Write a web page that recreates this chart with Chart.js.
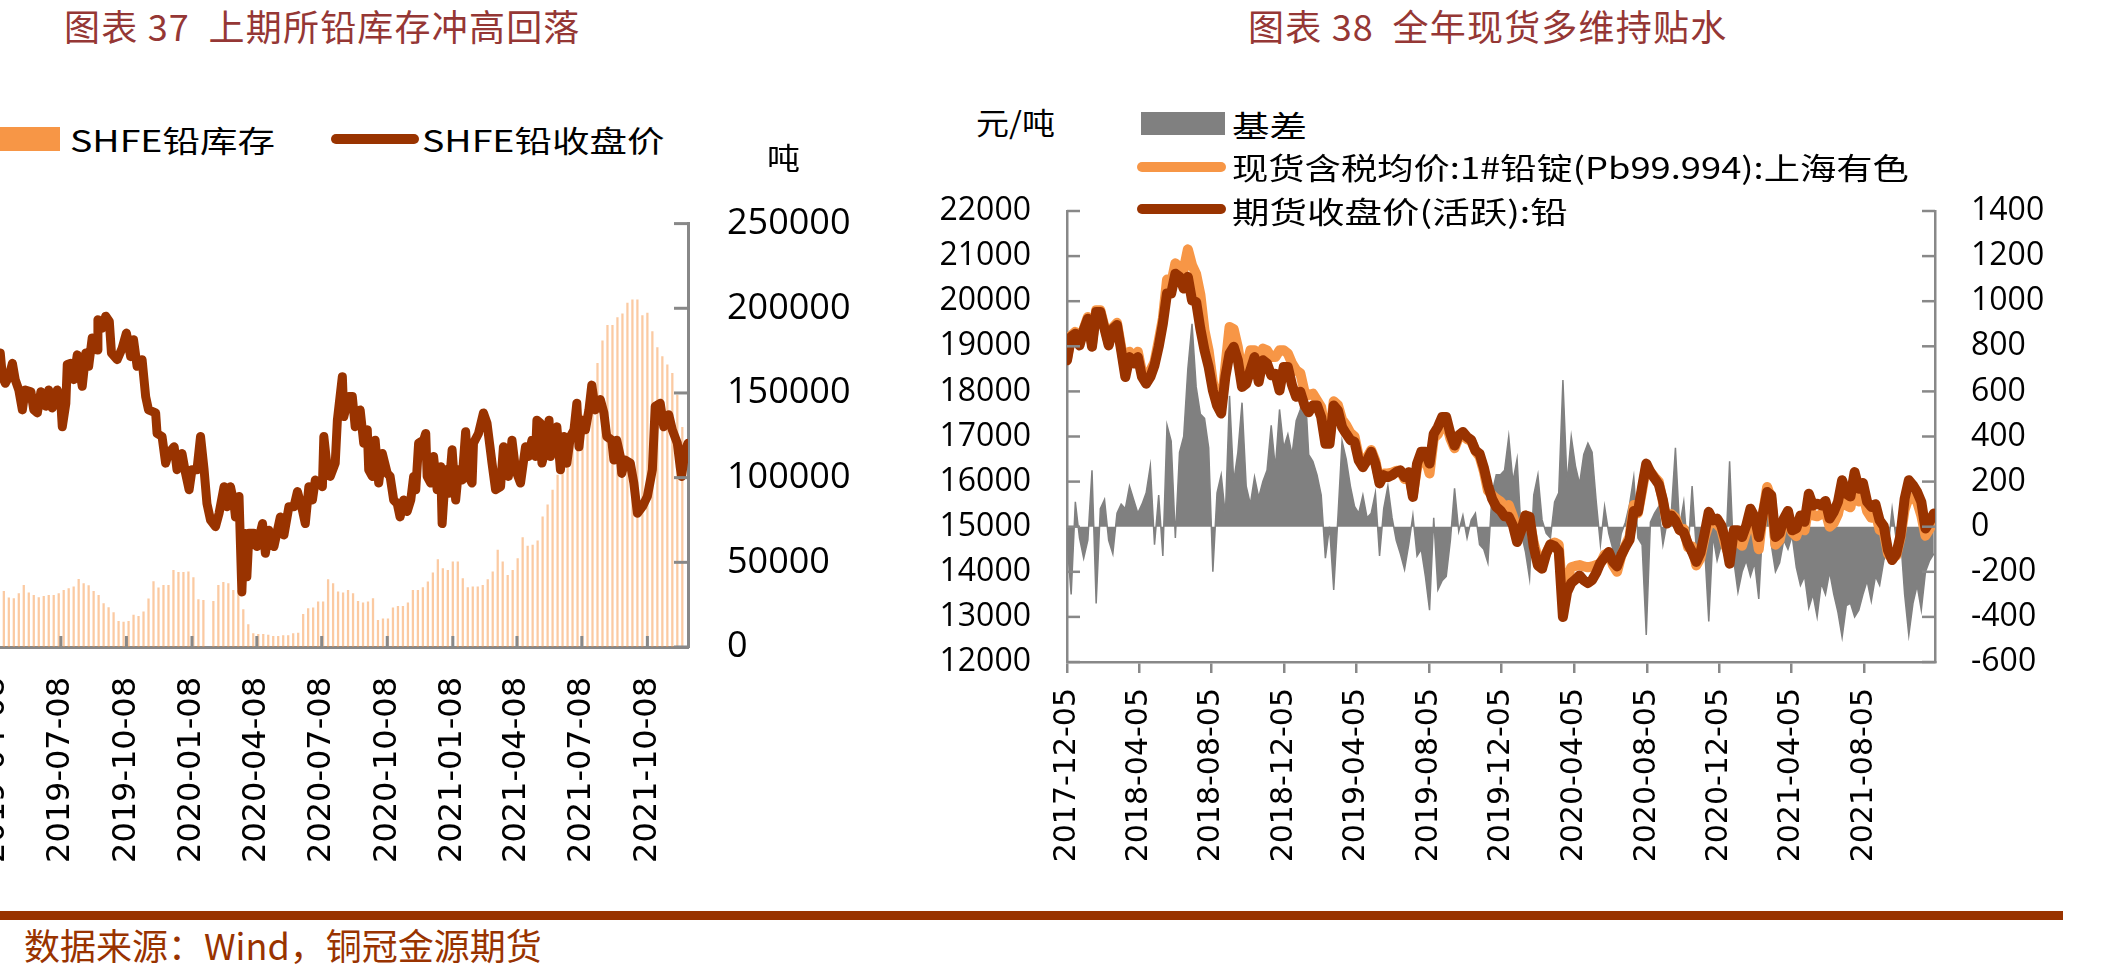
<!DOCTYPE html>
<html lang="zh-CN">
<head>
<meta charset="utf-8">
<title>铅库存与基差</title>
<script src="https://cdn.jsdelivr.net/npm/chart.js@4.4.1/dist/chart.umd.min.js"></script>
<style>
  html, body { margin: 0; padding: 0; background: #fff; }
  body { width: 2105px; height: 978px; position: relative; overflow: hidden; font-family: "Noto Sans CJK SC", sans-serif; }
  .abs { position: absolute; white-space: nowrap; }
  .title { font-size: 36px; line-height: 36px; color: #953735; letter-spacing: 1.2px; }
  .lbl { font-size: 30px; line-height: 30px; color: #000; transform: scaleX(1.25); transform-origin: left center; }
  .lbl.long { transform: scaleX(1.21); }
  .unit { transform: scaleX(1.1); }
  .foot { font-size: 36px; line-height: 36px; color: #993300; }
  .box, .mark, .rule { position: absolute; }
  .mark { height: 10px; border-radius: 5px; }
  canvas { position: absolute; }
</style>
</head>
<body>
<canvas id="chart-37" width="913" height="700" style="left:-60px;top:163px"></canvas>
<canvas id="chart-38" width="1225" height="760" style="left:880px;top:150px"></canvas>

<div class="abs title" style="left:64px;top:7px">图表 37&nbsp;&nbsp;上期所铅库存冲高回落</div>
<div class="abs title" style="left:1248px;top:7px">图表 38&nbsp;&nbsp;全年现货多维持贴水</div>

<div class="box" style="left:-24px;top:127px;width:84px;height:24px;background:#F79646"></div>
<div class="abs lbl" style="left:70px;top:124px">SHFE铅库存</div>
<div class="mark" style="left:331px;top:134px;width:88px;background:#993300"></div>
<div class="abs lbl" style="left:422px;top:124px">SHFE铅收盘价</div>
<div class="abs lbl unit" style="left:767px;top:141px">吨</div>

<div class="abs lbl unit" style="left:976px;top:106px">元/吨</div>
<div class="box" style="left:1141px;top:112px;width:84px;height:23px;background:#808080"></div>
<div class="abs lbl" style="left:1232px;top:109px">基差</div>
<div class="mark" style="left:1137px;top:162px;width:89px;background:#F79646"></div>
<div class="abs lbl long" style="left:1232px;top:151px">现货含税均价:1#铅锭(Pb99.994):上海有色</div>
<div class="mark" style="left:1137px;top:204px;width:89px;background:#993300"></div>
<div class="abs lbl" style="left:1232px;top:195px">期货收盘价(活跃):铅</div>

<div class="rule" style="left:0;top:911px;width:2063px;height:9px;background:#993300"></div>
<div class="abs foot" style="left:24px;top:926px">数据来源：Wind，铜冠金源期货</div>

<script>
// ---------- 图表37：上期所铅库存 / 收盘价 ----------
const leftTickDates = ['2019-04-08', '2019-07-08', '2019-10-08', '2020-01-08', '2020-04-08', '2020-07-08',
    '2020-10-08', '2021-01-08', '2021-04-08', '2021-07-08', '2021-10-08'];

const invDates = [
    '2019-04-19','2019-04-26','2019-05-03','2019-05-10','2019-05-17','2019-05-24','2019-05-31','2019-06-07','2019-06-14','2019-06-21',
    '2019-06-28','2019-07-05','2019-07-12','2019-07-19','2019-07-26','2019-08-02','2019-08-09','2019-08-16','2019-08-23','2019-08-30',
    '2019-09-06','2019-09-13','2019-09-20','2019-09-27','2019-10-04','2019-10-11','2019-10-18','2019-10-25','2019-11-01','2019-11-08',
    '2019-11-15','2019-11-22','2019-11-29','2019-12-06','2019-12-13','2019-12-20','2019-12-27','2020-01-03','2020-01-10','2020-01-17',
    '2020-01-24','2020-01-31','2020-02-07','2020-02-14','2020-02-21','2020-02-28','2020-03-06','2020-03-13','2020-03-20','2020-03-27',
    '2020-04-03','2020-04-10','2020-04-17','2020-04-24','2020-05-01','2020-05-08','2020-05-15','2020-05-22','2020-05-29','2020-06-05',
    '2020-06-12','2020-06-19','2020-06-26','2020-07-03','2020-07-10','2020-07-17','2020-07-24','2020-07-31','2020-08-07','2020-08-14',
    '2020-08-21','2020-08-28','2020-09-04','2020-09-11','2020-09-18','2020-09-25','2020-10-02','2020-10-09','2020-10-16','2020-10-23',
    '2020-10-30','2020-11-06','2020-11-13','2020-11-20','2020-11-27','2020-12-04','2020-12-11','2020-12-18','2020-12-25','2021-01-01',
    '2021-01-08','2021-01-15','2021-01-22','2021-01-29','2021-02-05','2021-02-12','2021-02-19','2021-02-26','2021-03-05','2021-03-12',
    '2021-03-19','2021-03-26','2021-04-02','2021-04-09','2021-04-16','2021-04-23','2021-04-30','2021-05-07','2021-05-14','2021-05-21',
    '2021-05-28','2021-06-04','2021-06-11','2021-06-18','2021-06-25','2021-07-02','2021-07-09','2021-07-16','2021-07-23','2021-07-30',
    '2021-08-06','2021-08-13','2021-08-20','2021-08-27','2021-09-03','2021-09-10','2021-09-17','2021-09-24','2021-10-01','2021-10-08',
    '2021-10-15','2021-10-22','2021-10-29','2021-11-05','2021-11-12','2021-11-19','2021-11-26'
];
const invValues = [
    32900, 28970, 28580, 31540, 36460, 31930, 30550, 29170, 29960, 30550,
    30550, 31540, 33510, 34490, 35480, 40010, 37450, 36270, 32920, 30550,
    25620, 23260, 20300, 15180, 14780, 15180, 18920, 18130, 20700, 28380,
    38630, 34890, 36460, 36460, 45330, 44150, 44150, 44350, 41000, 27990,
    27590, null, 27000, 36460, 38240, 37450, 33510, 33510, 22080, 13210,
    7880, 7490, 7490, 7100, 6310, 6310, 6700, 6700, 7880, 8280,
    19320, 22670, 23060, 26610, 26610, 39810, 37450, 32520, 31930, 33510,
    31540, 27000, 26020, 26610, 28580, 15770, 16560, 16560, 23060, 24050,
    24050, 26020, 33510, 33510, 35080, 38430, 43760, 51640, 46320, 45330,
    50260, 50260, 40410, 35080, 35480, 35480, 36460, 39810, 44350, 57160,
    50260, 42380, 45330, 52230, 64650, 59520, 60120, 62680, 76870, 83960,
    92640, 101510, 110380, 115890, 122600, 130870, 136980, 146840, 153740, 167540,
    180740, 190000, 190000, 194540, 196710, 203010, 204980, 204980, 195720, 197100,
    186260, 176800, 171480, 166550, 161620, 148810, 129690
];

const closeDates = [
    '2019-04-11','2019-04-14','2019-04-17','2019-04-21','2019-04-26','2019-05-01','2019-05-05','2019-05-10','2019-05-15','2019-05-19',
    '2019-05-27','2019-05-31','2019-06-05','2019-06-10','2019-06-17','2019-06-21','2019-06-26','2019-07-03','2019-07-08','2019-07-10',
    '2019-07-15','2019-07-17','2019-07-22','2019-07-26','2019-07-31','2019-08-07','2019-08-12','2019-08-16','2019-08-21','2019-08-28',
    '2019-08-29','2019-09-04','2019-09-09','2019-09-14','2019-09-17','2019-09-25','2019-10-02','2019-10-08','2019-10-14','2019-10-18',
    '2019-10-23','2019-10-30','2019-11-04','2019-11-08','2019-11-18','2019-11-20','2019-11-27','2019-12-02','2019-12-06','2019-12-14',
    '2019-12-18','2019-12-25','2019-12-30','2020-01-04','2020-01-08','2020-01-15','2020-01-20','2020-01-25','2020-01-29','2020-02-03',
    '2020-02-10','2020-02-15','2020-02-22','2020-02-26','2020-03-02','2020-03-07','2020-03-09','2020-03-14','2020-03-18','2020-03-21',
    '2020-03-25','2020-03-28','2020-04-04','2020-04-08','2020-04-16','2020-04-20','2020-04-25','2020-05-02','2020-05-11','2020-05-16',
    '2020-05-23','2020-05-30','2020-06-04','2020-06-11','2020-06-15','2020-06-20','2020-06-25','2020-06-29','2020-07-09','2020-07-11',
    '2020-07-16','2020-07-20','2020-07-27','2020-07-30','2020-08-06','2020-08-08','2020-08-15','2020-08-20','2020-08-24','2020-08-31',
    '2020-09-05','2020-09-10','2020-09-12','2020-09-17','2020-09-21','2020-09-26','2020-10-01','2020-10-08','2020-10-12','2020-10-17',
    '2020-10-22','2020-10-26','2020-10-31','2020-11-05','2020-11-10','2020-11-14','2020-11-17','2020-11-21','2020-11-28','2020-12-01',
    '2020-12-03','2020-12-08','2020-12-12','2020-12-17','2020-12-22','2020-12-24','2020-12-29','2021-01-02','2021-01-07','2021-01-12',
    '2021-01-16','2021-01-21','2021-01-26','2021-01-30','2021-02-04','2021-02-06','2021-02-13','2021-02-20','2021-02-25','2021-03-04',
    '2021-03-09','2021-03-16','2021-03-20','2021-03-27','2021-04-01','2021-04-06','2021-04-13','2021-04-20','2021-04-24','2021-04-29',
    '2021-05-04','2021-05-06','2021-05-11','2021-05-13','2021-05-18','2021-05-23','2021-05-25','2021-06-03','2021-06-08','2021-06-13',
    '2021-06-17','2021-06-22','2021-06-27','2021-07-01','2021-07-04','2021-07-08','2021-07-13','2021-07-18','2021-07-22','2021-07-27',
    '2021-08-03','2021-08-08','2021-08-12','2021-08-19','2021-08-22','2021-08-26','2021-08-31','2021-09-02','2021-09-07','2021-09-14',
    '2021-09-19','2021-09-24','2021-10-01','2021-10-08','2021-10-15','2021-10-19','2021-10-26','2021-10-31','2021-11-07','2021-11-12',
    '2021-11-19','2021-11-23','2021-11-25','2021-11-30','2021-12-04'
];
const closeValues = [
    16500, 16860, 16470, 16360, 16470, 16690, 16420, 16250, 15920, 16250,
    16220, 15920, 15870, 16220, 15980, 16250, 15950, 16250, 16030, 15640,
    16030, 16670, 16690, 16420, 16830, 16310, 16860, 16640, 17110, 16910,
    17410, 17270, 17470, 17380, 16860, 16750, 16940, 17190, 16800, 17080,
    16640, 16750, 16140, 15920, 15870, 15530, 15480, 15040, 15200, 15310,
    14930, 15200, 14870, 14600, 14930, 14930, 15480, 14930, 14370, 14100,
    13990, 14210, 14650, 14320, 14650, 14370, 14150, 14490, 12910, 13880,
    13160, 13880, 13880, 13660, 14040, 13550, 13930, 13660, 14150, 13850,
    14320, 14320, 14570, 14260, 14040, 14650, 14430, 14760, 14650, 15480,
    14930, 14820, 15040, 15750, 16470, 15810, 16140, 16140, 15640, 15920,
    15370, 15590, 14930, 14820, 15420, 14710, 15200, 14870, 14820, 14430,
    14370, 14150, 14430, 14240, 14430, 14820, 14600, 15370, 15420, 15530,
    14820, 14710, 15150, 14600, 14980, 14040, 14930, 14540, 15260, 14430,
    14930, 14760, 15560, 14820, 14710, 15370, 15530, 15870, 15700, 15040,
    14600, 14650, 15310, 14820, 15420, 14930, 14710, 15310, 15150, 15420,
    15150, 15750, 15700, 15040, 15260, 15750, 15150, 15640, 14930, 15480,
    15040, 15480, 15590, 16030, 15310, 15750, 15590, 15920, 16330, 15920,
    16090, 15870, 15480, 15420, 15090, 15420, 15150, 14870, 15090, 15040,
    14710, 14210, 14320, 14490, 14930, 15980, 16030, 15640, 15840, 15590,
    15370, 14980, 14820, 15260, 15370
];

// ---------- 图表38：基差 / 现货 / 期货 ----------
const rightTickDates = ['2017-12-05', '2018-04-05', '2018-08-05', '2018-12-05', '2019-04-05', '2019-08-05',
    '2019-12-05', '2020-04-05', '2020-08-05', '2020-12-05', '2021-04-05', '2021-08-05'];

const weekDates = [
    '2017-12-05','2017-12-12','2017-12-19','2017-12-26','2018-01-02','2018-01-09','2018-01-16','2018-01-23','2018-01-30','2018-02-06',
    '2018-02-13','2018-02-20','2018-02-27','2018-03-06','2018-03-13','2018-03-20','2018-03-27','2018-04-03','2018-04-10','2018-04-17',
    '2018-04-24','2018-05-01','2018-05-08','2018-05-15','2018-05-22','2018-05-29','2018-06-05','2018-06-12','2018-06-19','2018-06-26',
    '2018-07-03','2018-07-10','2018-07-17','2018-07-24','2018-07-31','2018-08-07','2018-08-14','2018-08-21','2018-08-28','2018-09-04',
    '2018-09-11','2018-09-18','2018-09-25','2018-10-02','2018-10-09','2018-10-16','2018-10-23','2018-10-30','2018-11-06','2018-11-13',
    '2018-11-20','2018-11-27','2018-12-04','2018-12-11','2018-12-18','2018-12-25','2019-01-01','2019-01-08','2019-01-15','2019-01-22',
    '2019-01-29','2019-02-05','2019-02-12','2019-02-19','2019-02-26','2019-03-05','2019-03-12','2019-03-19','2019-03-26','2019-04-02',
    '2019-04-09','2019-04-16','2019-04-23','2019-04-30','2019-05-07','2019-05-14','2019-05-21','2019-05-28','2019-06-04','2019-06-11',
    '2019-06-18','2019-06-25','2019-07-02','2019-07-09','2019-07-16','2019-07-23','2019-07-30','2019-08-06','2019-08-13','2019-08-20',
    '2019-08-27','2019-09-03','2019-09-10','2019-09-17','2019-09-24','2019-10-01','2019-10-08','2019-10-15','2019-10-22','2019-10-29',
    '2019-11-05','2019-11-12','2019-11-19','2019-11-26','2019-12-03','2019-12-10','2019-12-17','2019-12-24','2019-12-31','2020-01-07',
    '2020-01-14','2020-01-21','2020-01-28','2020-02-04','2020-02-11','2020-02-18','2020-02-25','2020-03-03','2020-03-10','2020-03-17',
    '2020-03-24','2020-03-31','2020-04-07','2020-04-14','2020-04-21','2020-04-28','2020-05-05','2020-05-12','2020-05-19','2020-05-26',
    '2020-06-02','2020-06-09','2020-06-16','2020-06-23','2020-06-30','2020-07-07','2020-07-14','2020-07-21','2020-07-28','2020-08-04',
    '2020-08-11','2020-08-18','2020-08-25','2020-09-01','2020-09-08','2020-09-15','2020-09-22','2020-09-29','2020-10-06','2020-10-13',
    '2020-10-20','2020-10-27','2020-11-03','2020-11-10','2020-11-17','2020-11-24','2020-12-01','2020-12-08','2020-12-15','2020-12-22',
    '2020-12-29','2021-01-05','2021-01-12','2021-01-19','2021-01-26','2021-02-02','2021-02-09','2021-02-16','2021-02-23','2021-03-02',
    '2021-03-09','2021-03-16','2021-03-23','2021-03-30','2021-04-06','2021-04-13','2021-04-20','2021-04-27','2021-05-04','2021-05-11',
    '2021-05-18','2021-05-25','2021-06-01','2021-06-08','2021-06-15','2021-06-22','2021-06-29','2021-07-06','2021-07-13','2021-07-20',
    '2021-07-27','2021-08-03','2021-08-10','2021-08-17','2021-08-24','2021-08-31','2021-09-07','2021-09-14','2021-09-21','2021-09-28',
    '2021-10-05','2021-10-12','2021-10-19','2021-10-26','2021-11-02','2021-11-09','2021-11-16','2021-11-23','2021-11-30'
];
const basisValues = [
    -60, -300, 110, -50, -140, -60, 250, -340, 80, 120,
    -60, -120, 60, 100, 80, 180, 120, 60, 100, 150,
    270, -80, 140, -130, 450, 380, -50, 330, 400, 700,
    900, 620, 500, 480, 350, -200, 150, 230, 50, 580,
    200, 330, 550, 180, 100, 220, 130, 200, 250, 450,
    260, 520, 350, 410, 320, 470, 520, 660, 320, 290,
    230, 140, -140, 0, -280, 40, 380, 300, 180, 90,
    60, 140, 40, 60, 150, -130, 80, 180, 40, -60,
    -120, -190, -80, 50, -130, -100, -220, -370, 40, -280,
    -240, -220, -60, 170, -20, 50, -50, 30, 60, -80,
    -100, -160, 150, 230, 230, 250, 400, 200, 300, -30,
    -110, -230, 140, 230, 30, -30, -50, 110, 150, 650,
    190, 400, 270, 190, 320, 370, 330, 110, -80, 90,
    -30, -100, -150, -30, 20, 100, 220, -50, -80, -480,
    20, 60, 90, -80, 20, 60, 350, 0, 110, -120,
    180, -100, -130, -90, -420, -40, -150, -80, -140, 290,
    -150, -290, -200, -150, -220, -160, -320, 20, 140, -80,
    -200, -160, -60, -100, -40, -180, -260, -220, -360, -300,
    -400, -250, -300, -200, -300, -380, -490, -350, -340, -400,
    -370, -300, -240, -330, -220, -260, -150, -100, 80, -60,
    -40, -300, -480, -340, -260, -370, -200, -150, -120
];
const spotValues = [
    18720, 19240, 19320, 19060, 19380, 19650, 19050, 19800, 19800, 19430,
    19060, 19420, 19520, 18980, 18420, 18880, 18740, 18880, 18430, 18300,
    18460, 18650, 19120, 19620, 20480, 20400, 20840, 20750, 20700, 21150,
    20800, 20600, 20150, 19350, 18900, 18200, 17800, 17650, 18550, 19430,
    19380, 18980, 18400, 18540, 18910, 18910, 18610, 18950, 18910, 18760,
    18760, 18910, 18910, 18840, 18620, 18470, 18400, 17990, 17920, 17950,
    17800, 17650, 17060, 16960, 17780, 17700, 17380, 17250, 17080, 17000,
    16560, 16420, 16540, 16700, 16460, 16000, 16180, 16180, 16200, 16240,
    16240, 16060, 16200, 15700, 16300, 16560, 16520, 16180, 16960, 17050,
    17250, 17300, 16950, 16740, 16980, 17080, 16940, 16900, 16680, 16560,
    16240, 15800, 15700, 15620, 15560, 15450, 15480, 15230, 14880, 15000,
    15250, 15140, 14640, 14300, 14150, 14420, 14600, 14650, 14600, 13350,
    13850, 14100, 14130, 14150, 14120, 14100, 14120, 14150, 14180, 14380,
    14420, 14150, 14000, 14350, 14580, 14780, 15480, 15300, 15800, 16330,
    16220, 16100, 16000, 15550, 15080, 15280, 15200, 14930, 14950, 14550,
    14560, 14140, 14300, 14760, 15050, 15100, 15050, 14950, 14580, 14350,
    14780, 14660, 14580, 14880, 15200, 15060, 14500, 15300, 15880, 15620,
    14600, 14700, 15120, 15250, 14880, 14790, 15060, 14920, 15480, 15250,
    15230, 15280, 15340, 15000, 15080, 15280, 15700, 15470, 15430, 15900,
    15560, 15720, 15340, 15200, 15320, 14930, 14880, 14400, 14300, 14360,
    14760, 15380, 15650, 15650, 15550, 15250, 14800, 14950, 15150
];
const futuresValues = [
    18690, 19210, 19280, 19020, 19360, 19610, 18990, 19760, 19760, 19390,
    19020, 19390, 19470, 18910, 18320, 18760, 18620, 18760, 18320, 18170,
    18320, 18580, 18990, 19500, 20170, 20170, 20610, 20540, 20280, 20540,
    20020, 19980, 19390, 18910, 18540, 18020, 17690, 17510, 18320, 18840,
    18990, 18690, 18100, 18170, 18470, 18760, 18210, 18690, 18620, 18360,
    18390, 18020, 18540, 18540, 18140, 17880, 17990, 17690, 17540, 17690,
    17690, 17430, 16840, 16840, 17690, 17580, 17210, 17060, 16920, 16880,
    16470, 16320, 16470, 16660, 16400, 15960, 16140, 16100, 16140, 16210,
    16250, 16100, 16210, 15660, 16400, 16660, 16660, 16400, 17060, 17210,
    17430, 17430, 17060, 16800, 17030, 17100, 16990, 16920, 16690, 16620,
    16320, 15920, 15620, 15440, 15360, 15230, 15220, 15030, 14660, 14920,
    15250, 15220, 14550, 14140, 14070, 14400, 14610, 14570, 14460, 13000,
    13550, 13750, 13830, 13920, 13810, 13750, 13820, 13980, 14200, 14310,
    14440, 14220, 14120, 14370, 14550, 14710, 15350, 15330, 15880, 16400,
    16210, 16070, 15940, 15590, 15070, 15250, 15130, 14930, 14870, 14620,
    14440, 14220, 14420, 14850, 15330, 15140, 15180, 15030, 14700, 14180,
    14920, 14920, 14770, 15030, 15400, 15220, 14770, 15290, 15770, 15700,
    14770, 14850, 15180, 15350, 14920, 14960, 15250, 15110, 15730, 15470,
    15510, 15470, 15570, 15180, 15330, 15550, 16030, 15730, 15670, 16210,
    15840, 15970, 15550, 15440, 15500, 15140, 15010, 14480, 14260, 14400,
    14810, 15620, 16030, 15920, 15770, 15550, 14960, 15110, 15290
];

function toDay(s) {
    return Date.parse(s) / 864e5;
}

function dayLabel(v) {
    return new Date(v * 864e5).toISOString().slice(0, 10);
}

function pairs(dates, values) {
    return dates.map((d, i) => ({x: toDay(d), y: values[i]}));
}

// Excel-style tick marks that point into the plot
const innerTicks = {
    id: 'innerTicks',
    afterDatasetsDraw(chart, args, opts) {
        const ctx = chart.ctx;
        ctx.save();
        ctx.strokeStyle = opts.color;
        ctx.lineWidth = opts.width;
        opts.axes.forEach(function (a) {
            const s = chart.scales[a.id];
            s.ticks.forEach(function (t) {
                const p = s.getPixelForValue(t.value);
                ctx.beginPath();
                if (a.side === 'bottom') {
                    ctx.moveTo(p, s.top);
                    ctx.lineTo(p, s.top - a.len);
                } else if (a.side === 'left') {
                    ctx.moveTo(s.right, p);
                    ctx.lineTo(s.right + a.len, p);
                } else {
                    ctx.moveTo(s.left, p);
                    ctx.lineTo(s.left - a.len, p);
                }
                ctx.stroke();
            });
        });
        ctx.restore();
    }
};

const axisGrey = '#888888';

// the price axis of chart 37 sits outside the crop, so it is kept hidden
new Chart(document.getElementById('chart-37'), {
    type: 'line',
    data: {
        datasets: [{
            label: 'SHFE铅收盘价',
            data: pairs(closeDates, closeValues),
            yAxisID: 'yPrice',
            borderColor: '#993300',
            borderWidth: 9,
            borderJoinStyle: 'round',
            borderCapStyle: 'round',
            pointRadius: 0,
            tension: 0
        }, {
            type: 'bar',
            label: 'SHFE铅库存',
            data: pairs(invDates, invValues),
            yAxisID: 'yInv',
            backgroundColor: 'rgba(247,150,70,0.5)',
            barThickness: 1.6
        }]
    },
    options: {
        responsive: false,
        animation: false,
        layout: {padding: {left: 56, top: 0, right: 0, bottom: 0}},
        plugins: {
            legend: {display: false},
            tooltip: {enabled: false},
            innerTicks: {
                color: axisGrey,
                width: 3,
                axes: [{id: 'x', side: 'bottom', len: 11}, {id: 'yInv', side: 'right', len: 14}]
            }
        },
        scales: {
            x: {
                type: 'linear',
                min: toDay('2019-04-08'),
                max: toDay('2021-12-04'),
                offset: false,
                afterBuildTicks: function (s) {
                    s.ticks = leftTickDates.map(d => ({value: toDay(d)}));
                },
                afterFit: function (s) {
                    s.height = 216;
                },
                grid: {display: false, drawTicks: false},
                border: {color: axisGrey, width: 3},
                ticks: {
                    autoSkip: false,
                    minRotation: 90,
                    maxRotation: 90,
                    padding: 30,
                    color: '#000',
                    font: {family: 'DejaVu Sans', size: 32},
                    callback: v => dayLabel(v)
                }
            },
            yPrice: {position: 'left', display: false, min: 12000, max: 19000},
            yInv: {
                position: 'right',
                min: 0,
                max: 250000,
                afterFit: function (s) {
                    s.width = 165;
                },
                grid: {display: false, drawTicks: false},
                border: {color: axisGrey, width: 3},
                ticks: {
                    stepSize: 50000,
                    padding: 39,
                    color: '#000',
                    font: {family: 'Open Sans', size: 36},
                    callback: v => String(v)
                }
            }
        }
    },
    plugins: [innerTicks]
});

new Chart(document.getElementById('chart-38'), {
    type: 'line',
    data: {
        datasets: [{
            label: '期货收盘价(活跃):铅',
            data: pairs(weekDates, futuresValues),
            yAxisID: 'y',
            borderColor: '#993300',
            borderWidth: 10,
            borderJoinStyle: 'round',
            borderCapStyle: 'round',
            pointRadius: 0,
            tension: 0,
            order: 0
        }, {
            label: '现货含税均价:1#铅锭(Pb99.994):上海有色',
            data: pairs(weekDates, spotValues),
            yAxisID: 'y',
            borderColor: '#F79646',
            borderWidth: 10,
            borderJoinStyle: 'round',
            borderCapStyle: 'round',
            pointRadius: 0,
            tension: 0,
            order: 1
        }, {
            label: '基差',
            data: pairs(weekDates, basisValues),
            yAxisID: 'y1',
            borderColor: '#808080',
            borderWidth: 1.5,
            backgroundColor: '#808080',
            fill: 'origin',
            pointRadius: 0,
            tension: 0,
            order: 2
        }]
    },
    options: {
        responsive: false,
        animation: false,
        layout: {padding: {left: 0, top: 61, right: 0, bottom: 0}},
        plugins: {
            legend: {display: false},
            tooltip: {enabled: false},
            innerTicks: {
                color: axisGrey,
                width: 2.5,
                axes: [{id: 'y', side: 'left', len: 13}, {id: 'y1', side: 'right', len: 13}]
            }
        },
        scales: {
            x: {
                type: 'linear',
                min: toDay('2017-12-05'),
                max: toDay('2021-12-02'),
                offset: false,
                afterBuildTicks: function (s) {
                    s.ticks = rightTickDates.map(d => ({value: toDay(d)}));
                },
                afterFit: function (s) {
                    s.height = 248;
                },
                grid: {display: true, drawOnChartArea: false, drawTicks: true, tickLength: 11, color: axisGrey, lineWidth: 2.5},
                border: {color: axisGrey, width: 2.5},
                ticks: {
                    autoSkip: false,
                    minRotation: 90,
                    maxRotation: 90,
                    padding: 15,
                    color: '#000',
                    font: {family: 'DejaVu Sans', size: 30},
                    callback: v => dayLabel(v)
                }
            },
            y: {
                position: 'left',
                min: 12000,
                max: 22000,
                afterFit: function (s) {
                    s.width = 187;
                },
                grid: {display: false, drawTicks: false},
                border: {color: axisGrey, width: 2.5},
                ticks: {
                    stepSize: 1000,
                    padding: 36,
                    color: '#000',
                    font: {family: 'Open Sans', size: 32},
                    callback: v => String(v)
                }
            },
            y1: {
                position: 'right',
                min: -600,
                max: 1400,
                afterFit: function (s) {
                    s.width = 170;
                },
                grid: {display: false, drawTicks: false},
                border: {color: axisGrey, width: 2.5},
                ticks: {
                    stepSize: 200,
                    padding: 36,
                    color: '#000',
                    font: {family: 'Open Sans', size: 32},
                    callback: v => String(v)
                }
            }
        }
    },
    plugins: [innerTicks]
});
</script>
</body>
</html>
